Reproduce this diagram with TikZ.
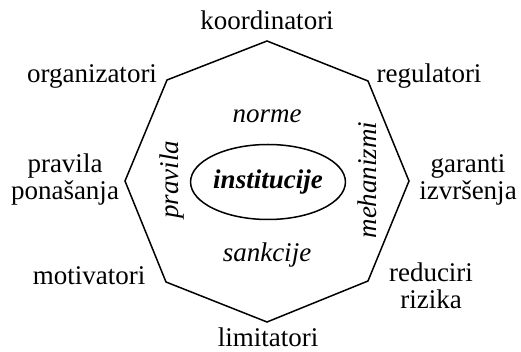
\documentclass[tikz,border=0pt]{standalone}
\usepackage{fontspec}
\setmainfont{Liberation Serif}
\usetikzlibrary{shapes.geometric}

\begin{document}
\begin{tikzpicture}[
  x=0.5pt, y=-0.5pt,
  role/.style={align=center, inner sep=0pt, font=\fontsize{13.5}{13.5}\selectfont},
  aspect/.style={inner sep=0pt, font=\fontsize{13.5}{13.5}\selectfont\itshape},
  core/.style={ellipse, draw, line width=0.75pt, minimum width=65pt, minimum height=37.5pt, inner sep=0pt, font=\fontsize{13.5}{13.5}\selectfont\bfseries\itshape},
  edge/.style={line width=0.75pt, line join=miter}
]
  \useasboundingbox (0,0) rectangle (521,352);

  % vertices of the octagon
  \coordinate (top) at (267,41);
  \coordinate (topright) at (368,81);
  \coordinate (right) at (409,181);
  \coordinate (botright) at (368,281);
  \coordinate (bot) at (267,322);
  \coordinate (botleft) at (166,282);
  \coordinate (left) at (125,181);
  \coordinate (topleft) at (167,80);

  \draw[edge] (top) -- (topright) -- (right) -- (botright) -- (bot)
    -- (botleft) -- (left) -- (topleft) -- cycle;

  \node[core] (inst) at (268,182) {institucije};

  \node[aspect] (norme) at (267,116) {norme};
  \node[aspect] (sank) at (267,255) {sankcije};
  \node[aspect, rotate=90] (prav) at (172,180) {pravila};
  \node[aspect, rotate=90] (meh) at (367,180) {mehanizmi};

  \node[role] (koord) at (267,20) {koordinatori};
  \node[role] (organ) at (92,76) {organizatori};
  \node[role] (regul) at (429,76) {regulatori};
  \node[role] (pon) at (65,180) {pravila\\ponašanja};
  \node[role] (gar) at (468,180) {garanti\\izvršenja};
  \node[role] (motiv) at (89,276) {motivatori};
  \node[role] (reduc) at (431,286) {reduciri\\rizika};
  \node[role] (limit) at (268,337) {limitatori};
\end{tikzpicture}
\end{document}
